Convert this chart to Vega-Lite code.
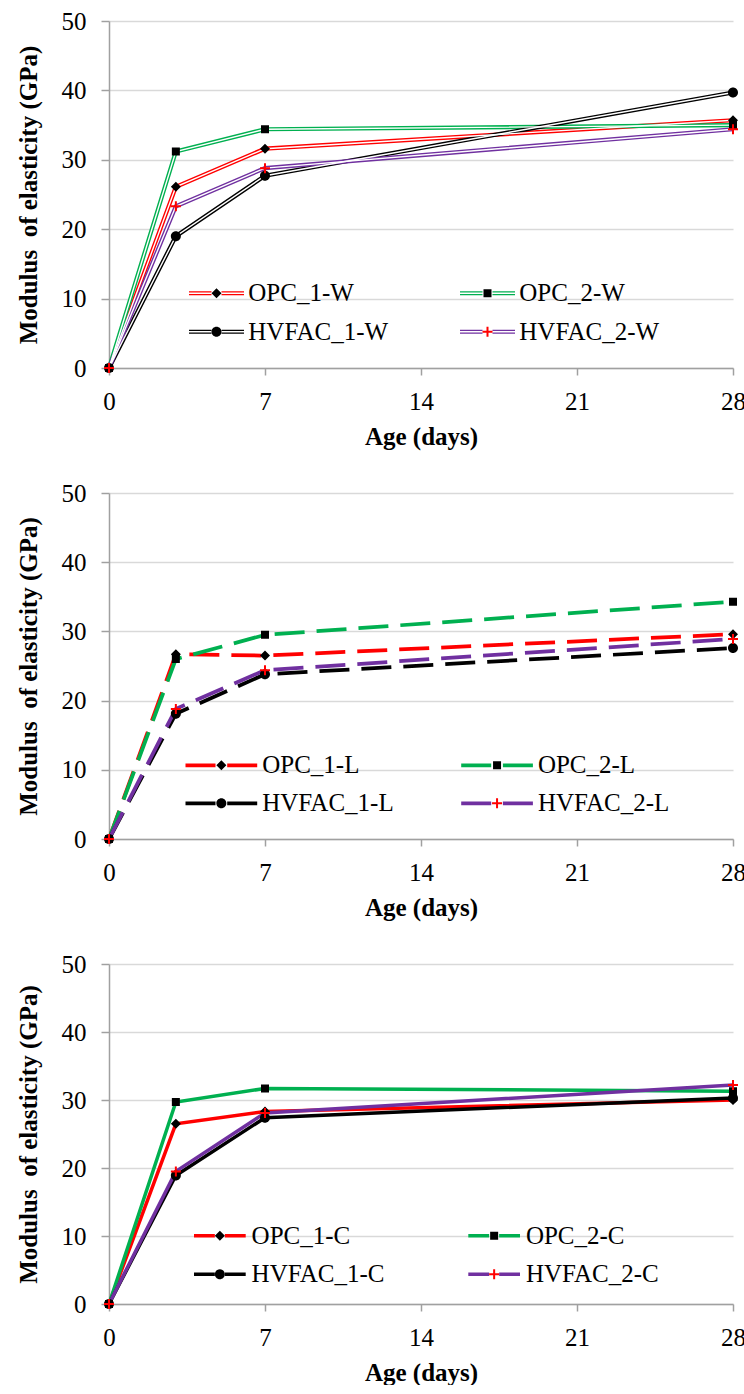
{
  "$schema": "https://vega.github.io/schema/vega-lite/v6.json",
  "background": "white",
  "padding": {"left": 16, "top": 9, "right": 0, "bottom": 0},
  "spacing": 32,
  "datasets": {
    "W": [
      {"age": 0, "E": 0, "series": "OPC_1-W"}, {"age": 3, "E": 26.1, "series": "OPC_1-W"}, {"age": 7, "E": 31.6, "series": "OPC_1-W"}, {"age": 28, "E": 35.7, "series": "OPC_1-W"},
      {"age": 0, "E": 0, "series": "OPC_2-W"}, {"age": 3, "E": 31.2, "series": "OPC_2-W"}, {"age": 7, "E": 34.4, "series": "OPC_2-W"}, {"age": 28, "E": 35.0, "series": "OPC_2-W"},
      {"age": 0, "E": 0, "series": "HVFAC_1-W"}, {"age": 3, "E": 19.0, "series": "HVFAC_1-W"}, {"age": 7, "E": 27.7, "series": "HVFAC_1-W"}, {"age": 28, "E": 39.7, "series": "HVFAC_1-W"},
      {"age": 0, "E": 0, "series": "HVFAC_2-W"}, {"age": 3, "E": 23.3, "series": "HVFAC_2-W"}, {"age": 7, "E": 28.8, "series": "HVFAC_2-W"}, {"age": 28, "E": 34.4, "series": "HVFAC_2-W"}
    ],
    "L": [
      {"age": 0, "E": 0, "series": "OPC_1-L"}, {"age": 3, "E": 26.7, "series": "OPC_1-L"}, {"age": 7, "E": 26.5, "series": "OPC_1-L"}, {"age": 28, "E": 29.6, "series": "OPC_1-L"},
      {"age": 0, "E": 0, "series": "OPC_2-L"}, {"age": 3, "E": 26.0, "series": "OPC_2-L"}, {"age": 7, "E": 29.5, "series": "OPC_2-L"}, {"age": 28, "E": 34.3, "series": "OPC_2-L"},
      {"age": 0, "E": 0, "series": "HVFAC_1-L"}, {"age": 3, "E": 18.1, "series": "HVFAC_1-L"}, {"age": 7, "E": 23.8, "series": "HVFAC_1-L"}, {"age": 28, "E": 27.6, "series": "HVFAC_1-L"},
      {"age": 0, "E": 0, "series": "HVFAC_2-L"}, {"age": 3, "E": 18.8, "series": "HVFAC_2-L"}, {"age": 7, "E": 24.4, "series": "HVFAC_2-L"}, {"age": 28, "E": 28.9, "series": "HVFAC_2-L"}
    ],
    "C": [
      {"age": 0, "E": 0, "series": "OPC_1-C"}, {"age": 3, "E": 26.5, "series": "OPC_1-C"}, {"age": 7, "E": 28.3, "series": "OPC_1-C"}, {"age": 28, "E": 30.0, "series": "OPC_1-C"},
      {"age": 0, "E": 0, "series": "OPC_2-C"}, {"age": 3, "E": 29.7, "series": "OPC_2-C"}, {"age": 7, "E": 31.7, "series": "OPC_2-C"}, {"age": 28, "E": 31.3, "series": "OPC_2-C"},
      {"age": 0, "E": 0, "series": "HVFAC_1-C"}, {"age": 3, "E": 18.9, "series": "HVFAC_1-C"}, {"age": 7, "E": 27.4, "series": "HVFAC_1-C"}, {"age": 28, "E": 30.3, "series": "HVFAC_1-C"},
      {"age": 0, "E": 0, "series": "HVFAC_2-C"}, {"age": 3, "E": 19.5, "series": "HVFAC_2-C"}, {"age": 7, "E": 28.1, "series": "HVFAC_2-C"}, {"age": 28, "E": 32.2, "series": "HVFAC_2-C"}
    ]
  },
  "vconcat": [
    {
      "data": {"name": "W"},
      "width": 624,
      "height": 347,
      "encoding": {
        "x": {"field": "age", "type": "quantitative", "scale": {"domain": [0, 28], "nice": false},
              "axis": {"values": [0, 7, 14, 21, 28], "title": "Age (days)", "grid": false, "tickSize": 7, "labelPadding": 14, "titlePadding": 10, "labelFlush": false,
                       "labelFont": "Liberation Serif, DejaVu Serif", "titleFont": "Liberation Serif, DejaVu Serif"}},
        "y": {"field": "E", "type": "quantitative", "scale": {"domain": [0, 50], "nice": false},
              "axis": {"values": [0, 10, 20, 30, 40, 50], "title": "Modulus\u00a0 of elasticity (GPa)", "grid": true, "tickSize": 8, "labelPadding": 15, "titlePadding": 20,
                       "labelFont": "Liberation Serif, DejaVu Serif", "titleFont": "Liberation Serif, DejaVu Serif"}}
      },
      "layer": [
        {
          "mark": {"type": "line", "strokeWidth": 4.2},
          "encoding": {
            "stroke": {"field": "series", "type": "nominal", "sort": ["OPC_1-W", "OPC_2-W", "HVFAC_1-W", "HVFAC_2-W"],
              "scale": {"range": ["#FF0000", "#00B050", "#000000", "#7030A0"]},
              "legend": {"title": null, "orient": "none", "direction": "horizontal", "legendX": 80, "legendY": 259.5, "columns": 2, "columnPadding": 68, "rowPadding": 12.7,
                "symbolType": "M-5.5,-0.27L-1,-0.27M-5.5,0.27L-1,0.27M1,-0.27L5.5,-0.27M1,0.27L5.5,0.27",
                "symbolSize": 100, "symbolStrokeWidth": 1.3, "symbolOffset": 15, "labelOffset": 19.3, "padding": 0}}
          }
        },
        {
          "mark": {"type": "line", "stroke": "white", "strokeWidth": 1.4},
          "encoding": {"detail": {"field": "series", "type": "nominal"}}
        },
        {
          "mark": {"type": "point", "filled": true, "size": 100, "opacity": 1, "strokeWidth": 0},
          "encoding": {
            "shape": {"field": "series", "type": "nominal",
              "scale": {"domain": ["OPC_1-W", "OPC_2-W", "HVFAC_1-W", "HVFAC_2-W"],
                "range": [
                  "M-1,0L0,-1L1,0L0,1Z M-5.5,0L5.5,0",
                  "M-0.8,-0.8L0.8,-0.8L0.8,0.8L-0.8,0.8Z M-5.5,0L5.5,0",
                  "M-1,0A1,1,0,1,1,1,0A1,1,0,1,1,-1,0Z M-5.5,0L5.5,0",
                  "M-1,-0.2L-0.2,-0.2L-0.2,-1L0.2,-1L0.2,-0.2L1,-0.2L1,0.2L0.2,0.2L0.2,1L-0.2,1L-0.2,0.2L-1,0.2Z M-5.5,0L5.5,0"]},
              "legend": {"title": null, "orient": "none", "direction": "horizontal", "legendX": 80, "legendY": 259.5, "columns": 2, "columnPadding": 68, "rowPadding": 12.7,
                "symbolSize": 100, "symbolStrokeWidth": 1.3, "symbolStrokeColor": "transparent", "symbolOffset": 15, "labelOffset": 19.3, "labelOpacity": 0, "padding": 0}},
            "fill": {"field": "series", "type": "nominal",
              "scale": {"domain": ["OPC_1-W", "OPC_2-W", "HVFAC_1-W", "HVFAC_2-W"], "range": ["#000000", "#000000", "#000000", "#FF0000"]},
              "legend": {"title": null, "orient": "none", "direction": "horizontal", "legendX": 80, "legendY": 259.5, "columns": 2, "columnPadding": 68, "rowPadding": 12.7,
                "symbolSize": 100, "symbolStrokeWidth": 1.3, "symbolStrokeColor": "transparent", "symbolOffset": 15, "labelOffset": 19.3, "labelOpacity": 0, "padding": 0}}
          }
        }
      ]
    },
    {
      "data": {"name": "L"},
      "width": 624,
      "height": 346,
      "encoding": {
        "x": {"field": "age", "type": "quantitative", "scale": {"domain": [0, 28], "nice": false},
              "axis": {"values": [0, 7, 14, 21, 28], "title": "Age (days)", "grid": false, "tickSize": 7, "labelPadding": 14, "titlePadding": 10, "labelFlush": false,
                       "labelFont": "Liberation Serif, DejaVu Serif", "titleFont": "Liberation Serif, DejaVu Serif"}},
        "y": {"field": "E", "type": "quantitative", "scale": {"domain": [0, 50], "nice": false},
              "axis": {"values": [0, 10, 20, 30, 40, 50], "title": "Modulus\u00a0 of elasticity (GPa)", "grid": true, "tickSize": 8, "labelPadding": 15, "titlePadding": 20,
                       "labelFont": "Liberation Serif, DejaVu Serif", "titleFont": "Liberation Serif, DejaVu Serif"}}
      },
      "layer": [
        {
          "mark": {"type": "line", "strokeWidth": 3.75, "strokeDash": [30, 12]},
          "encoding": {
            "stroke": {"field": "series", "type": "nominal", "sort": ["OPC_1-L", "OPC_2-L", "HVFAC_1-L", "HVFAC_2-L"],
              "scale": {"range": ["#FF0000", "#00B050", "#000000", "#7030A0"]},
              "legend": {"title": null, "orient": "none", "direction": "horizontal", "legendX": 76.5, "legendY": 259.5, "columns": 2, "columnPadding": 58.7, "rowPadding": 12.3,
                "symbolType": "M-7.17,0L-1.17,0M1.17,0L7.17,0", "symbolDash": [1000, 1],
                "symbolSize": 100, "symbolStrokeWidth": 3.75, "symbolOffset": 23.35, "labelOffset": 28.35, "padding": 0}}
          }
        },
        {
          "mark": {"type": "point", "filled": true, "size": 100, "opacity": 1, "strokeWidth": 0},
          "encoding": {
            "shape": {"field": "series", "type": "nominal",
              "scale": {"domain": ["OPC_1-L", "OPC_2-L", "HVFAC_1-L", "HVFAC_2-L"],
                "range": [
                  "M-1,0L0,-1L1,0L0,1Z M-7.17,0L7.17,0",
                  "M-0.8,-0.8L0.8,-0.8L0.8,0.8L-0.8,0.8Z M-7.17,0L7.17,0",
                  "M-1,0A1,1,0,1,1,1,0A1,1,0,1,1,-1,0Z M-7.17,0L7.17,0",
                  "M-1,-0.2L-0.2,-0.2L-0.2,-1L0.2,-1L0.2,-0.2L1,-0.2L1,0.2L0.2,0.2L0.2,1L-0.2,1L-0.2,0.2L-1,0.2Z M-7.17,0L7.17,0"]},
              "legend": {"title": null, "orient": "none", "direction": "horizontal", "legendX": 76.5, "legendY": 259.5, "columns": 2, "columnPadding": 58.7, "rowPadding": 12.3,
                "symbolSize": 100, "symbolStrokeWidth": 3.75, "symbolStrokeColor": "transparent", "symbolOffset": 23.35, "labelOffset": 28.35, "labelOpacity": 0, "padding": 0}},
            "fill": {"field": "series", "type": "nominal",
              "scale": {"domain": ["OPC_1-L", "OPC_2-L", "HVFAC_1-L", "HVFAC_2-L"], "range": ["#000000", "#000000", "#000000", "#FF0000"]},
              "legend": {"title": null, "orient": "none", "direction": "horizontal", "legendX": 76.5, "legendY": 259.5, "columns": 2, "columnPadding": 58.7, "rowPadding": 12.3,
                "symbolSize": 100, "symbolStrokeWidth": 3.75, "symbolStrokeColor": "transparent", "symbolOffset": 23.35, "labelOffset": 28.35, "labelOpacity": 0, "padding": 0}}
          }
        }
      ]
    },
    {
      "data": {"name": "C"},
      "width": 624,
      "height": 340,
      "encoding": {
        "x": {"field": "age", "type": "quantitative", "scale": {"domain": [0, 28], "nice": false},
              "axis": {"values": [0, 7, 14, 21, 28], "title": "Age (days)", "grid": false, "tickSize": 7, "labelPadding": 14, "titlePadding": 10, "labelFlush": false,
                       "labelFont": "Liberation Serif, DejaVu Serif", "titleFont": "Liberation Serif, DejaVu Serif"}},
        "y": {"field": "E", "type": "quantitative", "scale": {"domain": [0, 50], "nice": false},
              "axis": {"values": [0, 10, 20, 30, 40, 50], "title": "Modulus\u00a0 of elasticity (GPa)", "grid": true, "tickSize": 8, "labelPadding": 15, "titlePadding": 20,
                       "labelFont": "Liberation Serif, DejaVu Serif", "titleFont": "Liberation Serif, DejaVu Serif"}}
      },
      "layer": [
        {
          "mark": {"type": "line", "strokeWidth": 3.5},
          "encoding": {
            "stroke": {"field": "series", "type": "nominal", "sort": ["OPC_1-C", "OPC_2-C", "HVFAC_1-C", "HVFAC_2-C"],
              "scale": {"range": ["#FF0000", "#00B050", "#000000", "#7030A0"]},
              "legend": {"title": null, "orient": "none", "direction": "horizontal", "legendX": 85, "legendY": 259.1, "columns": 2, "columnPadding": 76.3, "rowPadding": 12.7,
                "symbolType": "M-5.17,0L-1,0M1,0L5.17,0",
                "symbolSize": 100, "symbolStrokeWidth": 3.5, "symbolOffset": 13.35, "labelOffset": 19.25, "padding": 0}}
          }
        },
        {
          "mark": {"type": "point", "filled": true, "size": 100, "opacity": 1, "strokeWidth": 0},
          "encoding": {
            "shape": {"field": "series", "type": "nominal",
              "scale": {"domain": ["OPC_1-C", "OPC_2-C", "HVFAC_1-C", "HVFAC_2-C"],
                "range": [
                  "M-1,0L0,-1L1,0L0,1Z M-5.17,0L5.17,0",
                  "M-0.8,-0.8L0.8,-0.8L0.8,0.8L-0.8,0.8Z M-5.17,0L5.17,0",
                  "M-1,0A1,1,0,1,1,1,0A1,1,0,1,1,-1,0Z M-5.17,0L5.17,0",
                  "M-1,-0.2L-0.2,-0.2L-0.2,-1L0.2,-1L0.2,-0.2L1,-0.2L1,0.2L0.2,0.2L0.2,1L-0.2,1L-0.2,0.2L-1,0.2Z M-5.17,0L5.17,0"]},
              "legend": {"title": null, "orient": "none", "direction": "horizontal", "legendX": 85, "legendY": 259.1, "columns": 2, "columnPadding": 76.3, "rowPadding": 12.7,
                "symbolSize": 100, "symbolStrokeWidth": 3.5, "symbolStrokeColor": "transparent", "symbolOffset": 13.35, "labelOffset": 19.25, "labelOpacity": 0, "padding": 0}},
            "fill": {"field": "series", "type": "nominal",
              "scale": {"domain": ["OPC_1-C", "OPC_2-C", "HVFAC_1-C", "HVFAC_2-C"], "range": ["#000000", "#000000", "#000000", "#FF0000"]},
              "legend": {"title": null, "orient": "none", "direction": "horizontal", "legendX": 85, "legendY": 259.1, "columns": 2, "columnPadding": 76.3, "rowPadding": 12.7,
                "symbolSize": 100, "symbolStrokeWidth": 3.5, "symbolStrokeColor": "transparent", "symbolOffset": 13.35, "labelOffset": 19.25, "labelOpacity": 0, "padding": 0}}
          }
        }
      ]
    }
  ],
  "resolve": {"scale": {"stroke": "independent", "shape": "independent", "fill": "independent"}},
  "config": {
    "view": {"stroke": null},
    "axis": {
      "labelFontSize": 25, "labelColor": "#000000",
      "titleFontSize": 25, "titleFontWeight": "bold", "titleColor": "#000000",
      "domainColor": "#A0A0A0", "domainWidth": 1.5, "tickColor": "#A0A0A0", "tickWidth": 1.5,
      "gridColor": "#D9D9D9", "gridWidth": 1.5
    },
    "legend": {"labelFont": "Liberation Serif, DejaVu Serif", "labelFontSize": 25, "labelColor": "#000000", "labelLimit": 0}
  }
}
